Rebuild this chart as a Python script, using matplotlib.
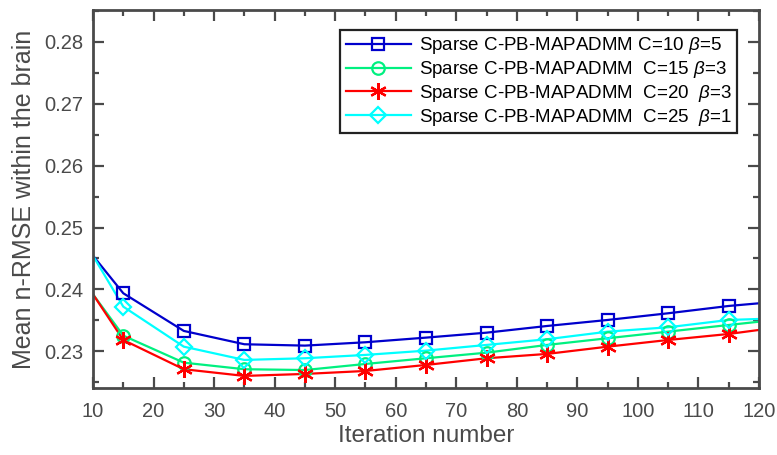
import matplotlib
matplotlib.use("Agg")
import matplotlib.pyplot as plt
from matplotlib.lines import Line2D
from matplotlib.ticker import MultipleLocator, FormatStrFormatter

plt.rcParams['font.family'] = ['Liberation Sans', 'DejaVu Sans']
plt.rcParams['mathtext.fontset'] = 'custom'
plt.rcParams['mathtext.it'] = 'Liberation Sans:italic'
plt.rcParams['mathtext.rm'] = 'Liberation Sans'

iterations = [10, 15, 25, 35, 45, 55, 65, 75, 85, 95, 105, 115, 120]

rmse_c10 = [0.24545, 0.23939, 0.23331, 0.23116, 0.23094, 0.23148, 0.23223,
            0.23303, 0.23411, 0.23508, 0.23616, 0.23734, 0.23777]
rmse_c15 = [0.23922, 0.23255, 0.22819, 0.22713, 0.22700, 0.22798, 0.22890,
            0.22980, 0.23105, 0.23213, 0.23320, 0.23427, 0.23480]
rmse_c20 = [0.23922, 0.23185, 0.22713, 0.22605, 0.22637, 0.22685, 0.22782,
            0.22890, 0.22960, 0.23077, 0.23185, 0.23282, 0.23347]
rmse_c25 = [0.24545, 0.23723, 0.23077, 0.22863, 0.22890, 0.22944, 0.23013,
            0.23105, 0.23197, 0.23319, 0.23390, 0.23508, 0.23524]

labels = [
    r"Sparse C-PB-MAPADMM C=10 $\beta$=5",
    r"Sparse C-PB-MAPADMM  C=15 $\beta$=3",
    r"Sparse C-PB-MAPADMM  C=20  $\beta$=3",
    r"Sparse C-PB-MAPADMM  C=25  $\beta$=1",
]

series = [
    (rmse_c10, '#0000CC', 's', 9),
    (rmse_c15, '#00F080', 'o', 9),
    (rmse_c20, '#FF0000', '*', 12),
    (rmse_c25, '#00FFFF', 'D', 8),
]

fig = plt.figure(figsize=(7.77, 4.55), dpi=100)
ax = fig.add_axes([93 / 777, 1 - 388 / 455, (759 - 93) / 777, (388 - 10) / 455])

handles = []
for (vals, color, marker, ms), label in zip(series, labels):
    ax.plot(iterations, vals, color=color, lw=1.6, zorder=2)
    mk = marker if marker != '*' else (6, 2, 0)
    ax.plot(iterations[1:-1], vals[1:-1], linestyle='none', marker=mk,
            markersize=ms, markerfacecolor='none', markeredgecolor=color,
            markeredgewidth=1.6, zorder=3)
    handles.append(Line2D([], [], color=color, lw=1.6, marker=mk,
                          markersize=ms, markerfacecolor='none',
                          markeredgecolor=color, markeredgewidth=1.6))

ax.set_xlim(10, 120)
ax.set_ylim(0.2241, 0.2851)
ax.xaxis.set_major_locator(MultipleLocator(10))
ax.xaxis.set_minor_locator(MultipleLocator(5))
ax.yaxis.set_major_locator(MultipleLocator(0.01))
ax.yaxis.set_minor_locator(MultipleLocator(0.005))
ax.yaxis.set_major_formatter(FormatStrFormatter('%.2f'))

axis_color = '#4a4a4a'
for sp in ax.spines.values():
    sp.set_color(axis_color)
    sp.set_linewidth(2.0)
ax.tick_params(which='both', direction='in', top=True, right=True,
               color=axis_color, width=1.6, labelcolor=axis_color,
               labelsize=14.5)
ax.tick_params(which='major', length=8)
ax.tick_params(which='minor', length=4)
ax.tick_params(axis='x', which='major', pad=10)
ax.tick_params(axis='y', which='major', pad=7)

ax.set_xlabel('Iteration number', fontsize=17.5, color=axis_color, labelpad=3)
ax.set_ylabel('Mean n-RMSE within the brain', fontsize=18, color=axis_color,
              labelpad=6)

leg = fig.legend(handles, labels, loc='upper right',
                 bbox_to_anchor=(737 / 777, 1 - 30 / 455),
                 bbox_transform=fig.transFigure, borderaxespad=0,
                 fontsize=13.5, frameon=True, fancybox=False,
                 handlelength=3.5, handletextpad=0.4, labelspacing=0.15,
                 borderpad=0.28, framealpha=1)
leg.get_frame().set_edgecolor('#222222')
leg.get_frame().set_linewidth(1.6)

fig.savefig('out.png', dpi=100)
